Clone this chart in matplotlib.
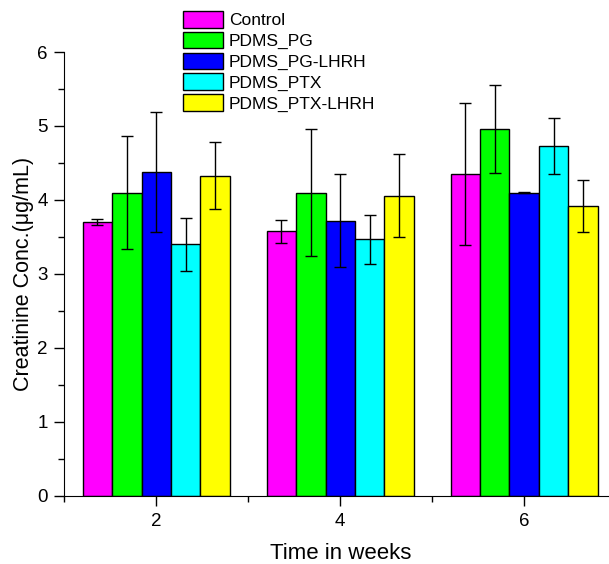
import matplotlib
matplotlib.use('Agg')
import matplotlib.pyplot as plt
import numpy as np
from matplotlib.ticker import MultipleLocator

plt.rcParams['font.family'] = ['Liberation Sans', 'DejaVu Sans']

weeks = [2, 4, 6]
groups = ['Control', 'PDMS_PG', 'PDMS_PG-LHRH', 'PDMS_PTX', 'PDMS_PTX-LHRH']
colors = ['#FF00FF', '#00FF00', '#0000FF', '#00FFFF', '#FFFF00']

# mean creatinine per group at weeks 2, 4, 6
control = [3.70, 3.58, 4.35]
pdms_pg = [4.10, 4.10, 4.96]
pdms_pg_lhrh = [4.38, 3.72, 4.10]
pdms_ptx = [3.40, 3.47, 4.73]
pdms_ptx_lhrh = [4.33, 4.06, 3.92]

# standard deviations
control_sd = [0.04, 0.155, 0.96]
pdms_pg_sd = [0.76, 0.86, 0.59]
pdms_pg_lhrh_sd = [0.81, 0.63, 0.01]
pdms_ptx_sd = [0.36, 0.33, 0.38]
pdms_ptx_lhrh_sd = [0.45, 0.56, 0.35]

means = [control, pdms_pg, pdms_pg_lhrh, pdms_ptx, pdms_ptx_lhrh]
sds = [control_sd, pdms_pg_sd, pdms_pg_lhrh_sd, pdms_ptx_sd, pdms_ptx_lhrh_sd]

fig = plt.figure(figsize=(6.09, 5.64), dpi=100)
ax = fig.add_axes([0.1056, 0.1206, 0.9062, 0.7872])

w = 0.32
x = np.array(weeks, dtype=float)
for i, (name, m, s, c) in enumerate(zip(groups, means, sds, colors)):
    ax.bar(x + (i - 2) * w, m, w, color=c, edgecolor='black', linewidth=1.0,
           label=name, zorder=2)
    ax.errorbar(x + (i - 2) * w, m, yerr=s, fmt='none', ecolor='black',
                elinewidth=1.0, capsize=4.5, capthick=1.0, zorder=3)

ax.set_xlim(1, 7)
ax.set_ylim(0, 6)
ax.set_xticks(weeks)
ax.xaxis.set_minor_locator(MultipleLocator(1))
ax.yaxis.set_major_locator(MultipleLocator(1))
ax.yaxis.set_minor_locator(MultipleLocator(0.5))
ax.spines['top'].set_visible(False)
ax.spines['right'].set_visible(False)
ax.tick_params(which='major', direction='out', length=7, width=1, labelsize=13.5, pad=5)
ax.tick_params(which='minor', direction='out', length=4, width=1)

ax.set_xlabel('Time in weeks', fontsize=16)
ax.set_ylabel('Creatinine Conc.(μg/mL)', fontsize=15.5)
ax.xaxis.set_label_coords(0.5, -0.105)
ax.yaxis.set_label_coords(-0.055, 0.5)

fig.legend(loc='upper left', bbox_to_anchor=(0.300, 0.9805), frameon=False,
           fontsize=12.5, handlelength=2.3, handleheight=1.1, labelspacing=0.2,
           handletextpad=0.35, borderpad=0, borderaxespad=0)

fig.savefig('out.png', dpi=100)
